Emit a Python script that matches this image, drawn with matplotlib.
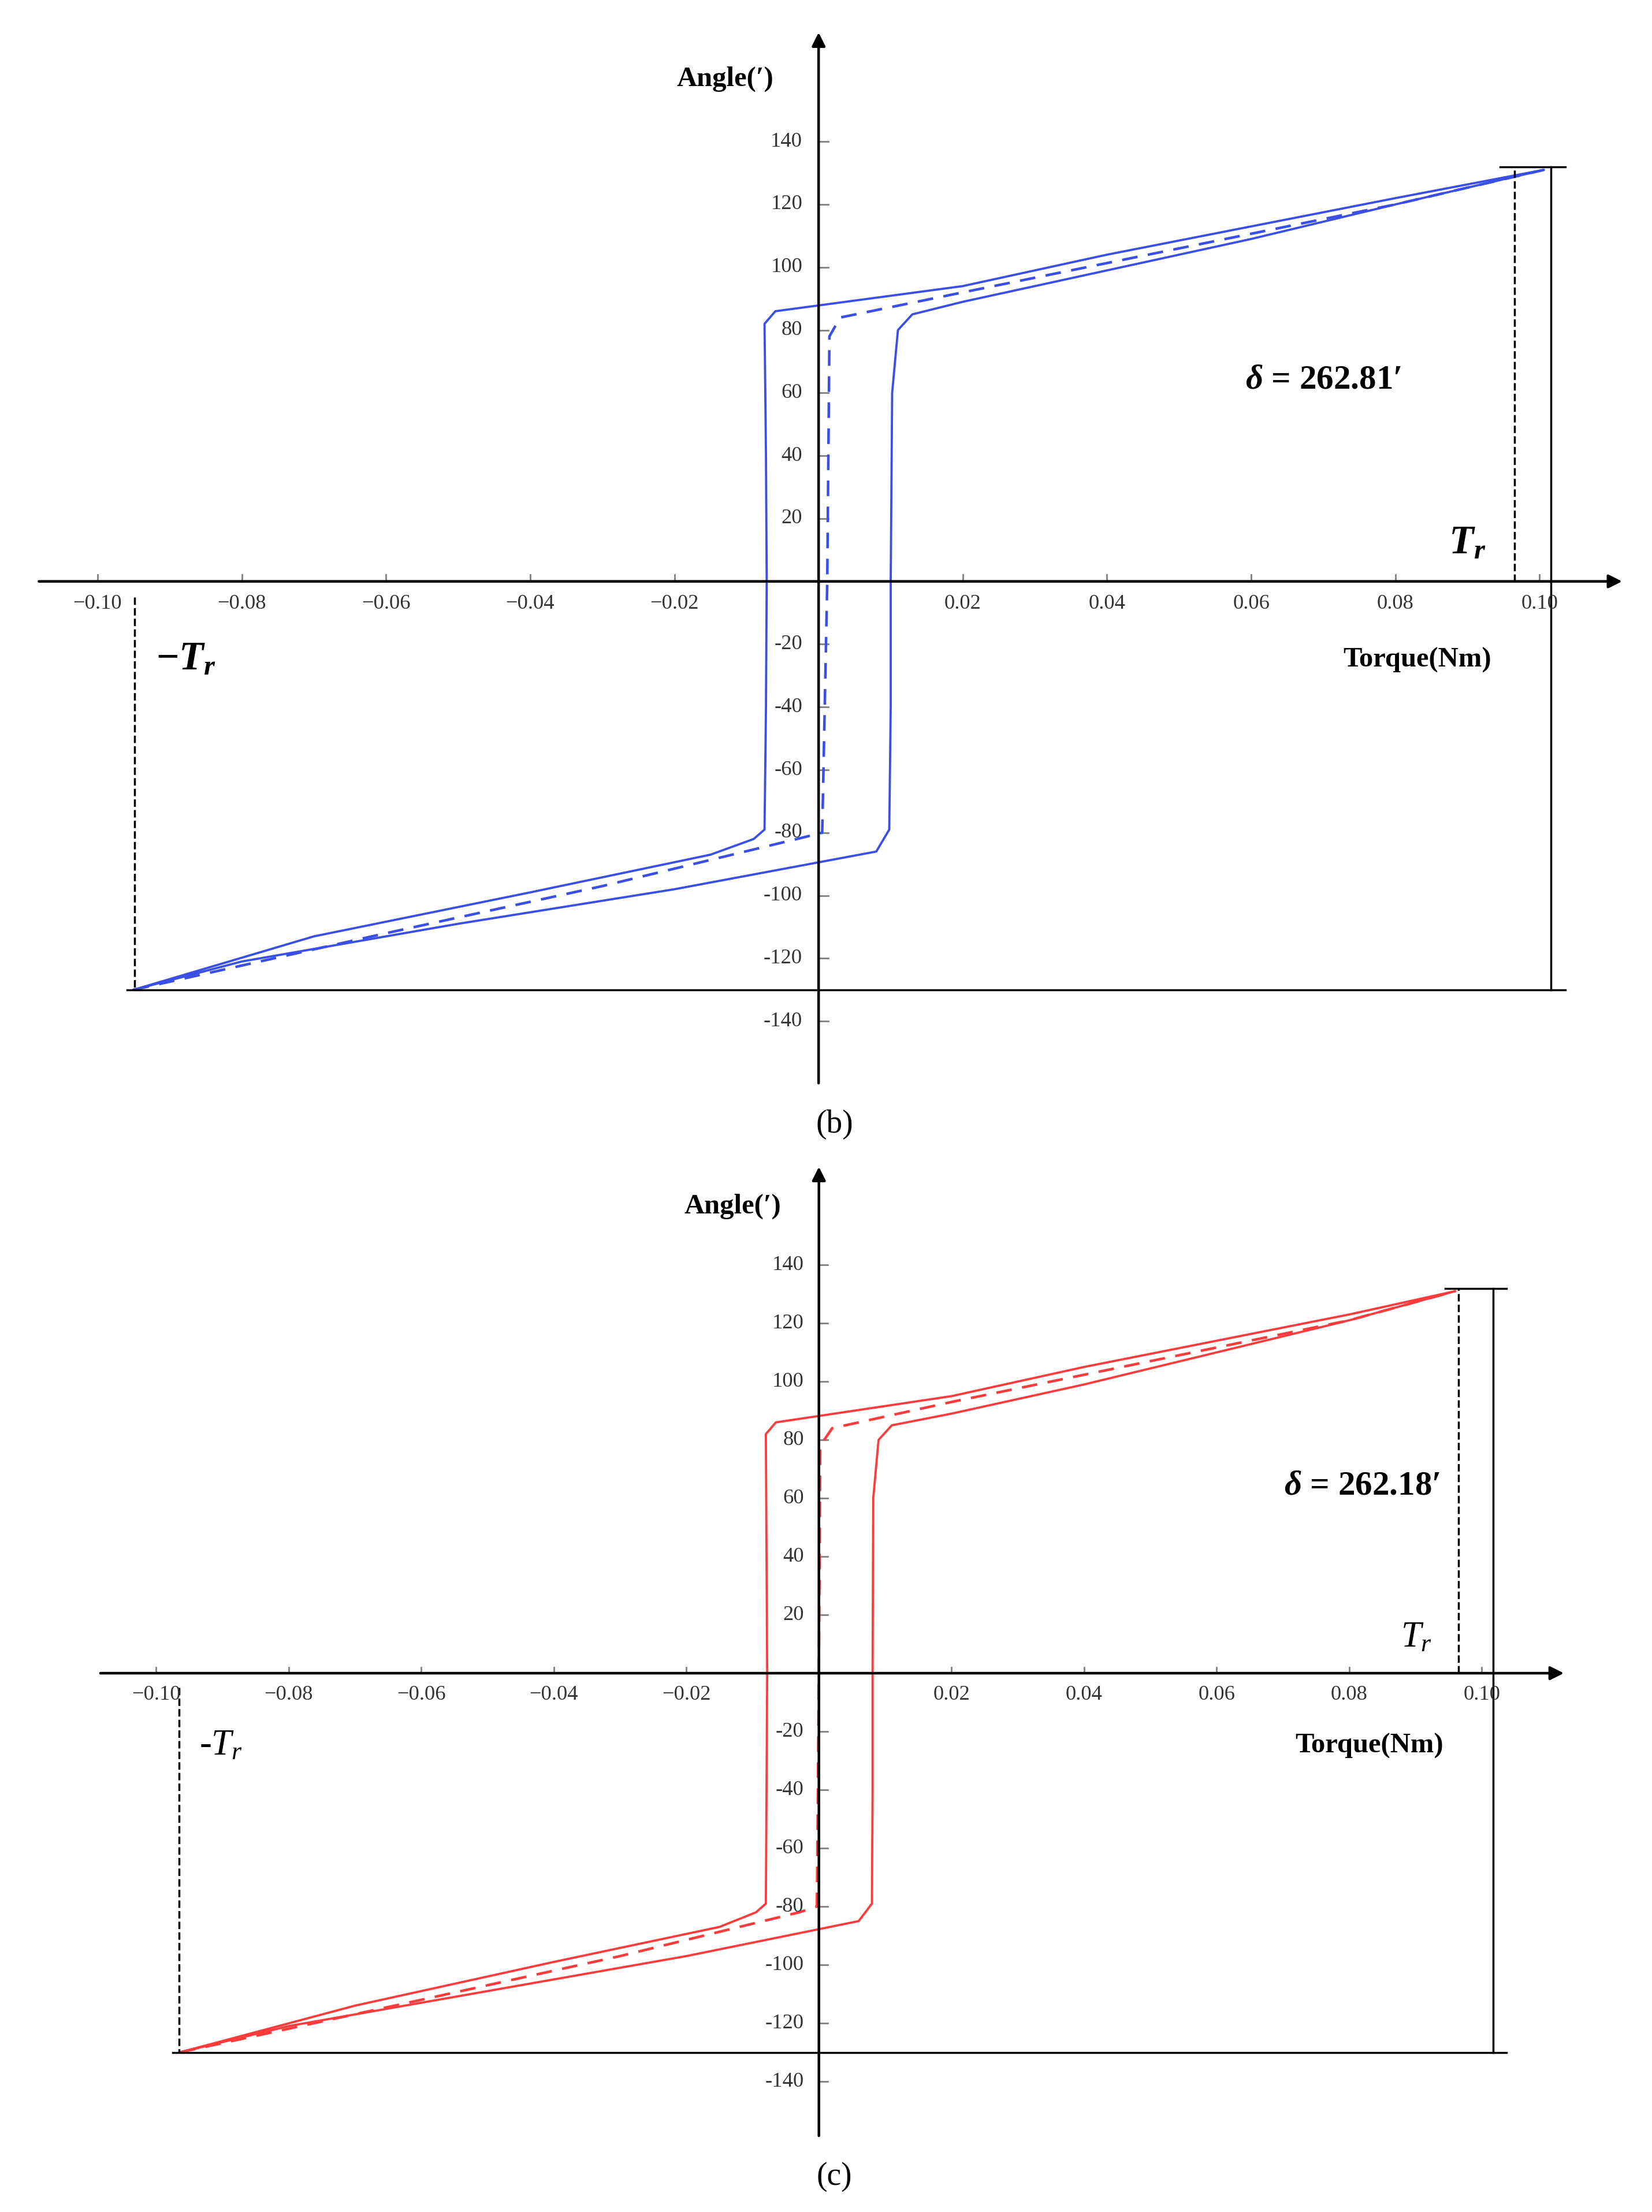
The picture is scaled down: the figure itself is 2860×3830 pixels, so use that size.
import numpy as np
import matplotlib.pyplot as plt

plt.rcParams['font.family'] = ['Liberation Serif', 'DejaVu Serif']
plt.rcParams['mathtext.fontset'] = 'custom'
plt.rcParams['mathtext.rm'] = 'Liberation Serif'
plt.rcParams['mathtext.it'] = 'Liberation Serif:italic'
plt.rcParams['mathtext.bf'] = 'Liberation Serif:bold'
plt.rcParams['mathtext.bfit'] = 'Liberation Serif:italic:bold'

# hysteresis loops (torque Nm, angle arcmin)
b_loop_t = [-0.0950, -0.070, -0.040, -0.015, -0.0090, -0.0075, -0.0073, -0.0072, -0.0073, -0.0075,
            -0.0060, 0.020, 0.040, 0.060, 0.080, 0.1006,
            0.080, 0.060, 0.040, 0.020, 0.0130, 0.0110, 0.0102, 0.0100, 0.0100, 0.0098,
            0.0080, -0.020, -0.050, -0.080, -0.0950]
b_loop_a = [-130, -113, -99, -87, -82, -79, -40, 0, 40, 82,
            86, 94, 104, 113, 122, 131,
            120, 109, 99, 89, 85, 80, 60, 0, -40, -79,
            -86, -98, -109, -121, -130]
b_mid_t = [-0.0950, -0.060, -0.030, -0.0030, 0.0005, 0.0012, 0.0015, 0.0030, 0.020, 0.050, 0.080, 0.1006]
b_mid_a = [-130, -112, -97, -82, -80, 0, 78, 84, 92, 106, 120, 131]

c_loop_t = [-0.0964, -0.070, -0.040, -0.015, -0.0095, -0.0080, -0.0079, -0.0078, -0.0079, -0.0080,
            -0.0065, 0.020, 0.040, 0.060, 0.080, 0.0960,
            0.080, 0.060, 0.040, 0.020, 0.0110, 0.0090, 0.0082, 0.0081, 0.0081, 0.0080,
            0.0060, -0.020, -0.050, -0.080, -0.0964]
c_loop_a = [-130, -114, -99, -87, -82, -79, -40, 0, 40, 82,
            86, 95, 105, 114, 123, 131,
            121, 110, 99, 89, 85, 80, 60, 0, -40, -79,
            -85, -97, -109, -121, -130]
c_mid_t = [-0.0964, -0.060, -0.030, -0.0030, -0.0003, 0.0000, 0.0002, 0.0020, 0.020, 0.050, 0.080, 0.0960]
c_mid_a = [-130, -112, -97, -82, -80, 0, 78, 84, 93, 107, 121, 131]

x_ticks = [-0.10, -0.08, -0.06, -0.04, -0.02, 0.02, 0.04, 0.06, 0.08, 0.10]
y_ticks = [-140, -120, -100, -80, -60, -40, -20, 20, 40, 60, 80, 100, 120, 140]

W, H = 1164, 1560
fig = plt.figure(figsize=(11.44, 15.32), dpi=250)


def panel(rect, xlim, ylim, loop_t, loop_a, mid_t, mid_a, color, xax, yax, ann, delta, bold, tag, tagy):
    ax = fig.add_axes(rect)
    ax.set_xlim(*xlim)
    ax.set_ylim(*ylim)
    ax.axis('off')
    ap = dict(arrowstyle='-|>', color='black', lw=1.3, mutation_scale=14)
    ax.annotate('', xy=(xax[1], 0), xytext=(xax[0], 0), arrowprops=ap)
    ax.annotate('', xy=(0, yax[1]), xytext=(0, yax[0]), arrowprops=ap)
    dx = xlim[1] - xlim[0]
    dy = ylim[1] - ylim[0]
    for t in x_ticks:
        ax.plot([t, t], [0, dy * 0.006], color='grey', lw=0.8)
        ax.text(t, -dy * 0.012, f'{t:.2f}'.replace('-', '\u2212'), ha='center', va='top',
                fontsize=10.5, color='#333333')
    for a in y_ticks:
        ax.plot([0, dx * 0.006], [a, a], color='grey', lw=0.8)
        ax.text(-dx * 0.01, a, str(a), ha='right', va='center', fontsize=10.5, color='#333333')
    ax.plot(loop_t, loop_a, color=color, lw=1.1)
    ax.plot(mid_t, mid_a, color=color, lw=1.3, ls=(0, (6, 4)))
    # annotation lines
    tr, trs, tl = ann
    ax.plot([tr, tr], [0, 132], 'k--', lw=1.0)
    ax.plot([tr - 0.002, trs + 0.002], [132, 132], 'k-', lw=1.0)
    ax.plot([trs, trs], [132, -130], 'k-', lw=1.0)
    ax.plot([tl, trs + 0.002], [-130, -130], 'k-', lw=1.0)
    ax.plot([tl + 0.001, tl + 0.001], [-5, -130], 'k--', lw=1.0)
    if bold:
        tr_txt = r'$\mathbfit{T}_{\mathbfit{r}}$'
        d_txt = r'$\mathbfit{\delta}$'
        tsize = 20
    else:
        tr_txt = r'$T_r$'
        d_txt = r'$\mathbfit{\delta}$'
        tsize = 18
    ax.text(delta[0], 64, d_txt + ' = ' + delta[1] + '\u2032', ha='center', va='center',
            fontsize=17, fontweight='bold')
    ax.text(tr - 0.004, 12, tr_txt, ha='right', va='center', fontsize=tsize)
    ax.text(tl + 0.004, -25, ('$\\mathbf{-}$' if bold else '-') + tr_txt, ha='left', va='center',
            fontsize=tsize, fontweight='bold' if bold else 'normal')
    ax.text(0.083, -25, 'Torque(Nm)', ha='center', va='center', fontsize=14, fontweight='bold')
    ax.text(-0.013, 160, 'Angle(\u2032)', ha='center', va='center', fontsize=14, fontweight='bold')
    fig.text(588 / W, 1 - tagy / H, tag, ha='center', va='center', fontsize=16)


panel([20 / W, 1 - 780 / H, 1140 / W, 765 / H], (-0.1096, 0.1148), (-167.0, 178.3),
      b_loop_t, b_loop_a, b_mid_t, b_mid_a, '#3a4fe8', (-0.1087, 0.112), (-161, 176),
      (0.0965, 0.1016, -0.0959), (0.070, '262.81'), True, '(b)', 793)
panel([60 / W, 1 - 1520 / H, 1055 / W, 710 / H], (-0.1107, 0.1152), (-165.3, 179.9),
      c_loop_t, c_loop_a, c_mid_t, c_mid_a, '#ff3b3b', (-0.109, 0.113), (-160, 175),
      (0.0965, 0.1017, -0.0975), (0.082, '262.18'), False, '(c)', 1535)

fig.savefig('out.png')
